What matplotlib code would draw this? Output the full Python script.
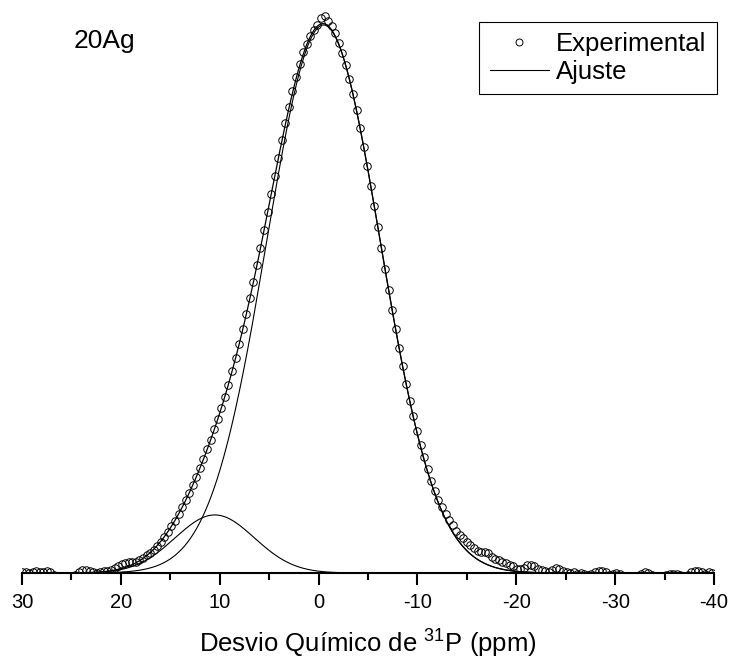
import numpy as np
import matplotlib
matplotlib.use("Agg")
import matplotlib.pyplot as plt
from matplotlib.lines import Line2D

plt.rcParams['font.family'] = ['Liberation Sans', 'DejaVu Sans']
plt.rcParams['mathtext.fontset'] = 'custom'
plt.rcParams['mathtext.rm'] = 'Liberation Sans'
plt.rcParams['mathtext.it'] = 'Liberation Sans:italic'
plt.rcParams['axes.unicode_minus'] = False

# ---- data -------------------------------------------------------------
sample_label = "20Ag"
x_start = 30.0          # ppm, first experimental point
x_step = -0.36          # ppm spacing of experimental points

exp_y = [
    0.001, 0.002, 0.000, 0.001, 0.003, 0.002, 0.002, 0.003, 0.001, -0.004,
    -0.009, -0.011, -0.012, -0.010, -0.008, -0.004, 0.002, 0.005, 0.006, 0.004,
    0.001, 0.000, 0.001, 0.003, 0.004, 0.006, 0.009, 0.012, 0.016, 0.019,
    0.020, 0.020, 0.021, 0.023, 0.028, 0.032, 0.036, 0.042, 0.049, 0.057,
    0.066, 0.075, 0.085, 0.095, 0.107, 0.120, 0.133, 0.146, 0.160, 0.176,
    0.192, 0.208, 0.226, 0.243, 0.262, 0.281, 0.301, 0.322, 0.343, 0.368,
    0.392, 0.418, 0.445, 0.472, 0.501, 0.531, 0.562, 0.593, 0.626, 0.658,
    0.692, 0.725, 0.758, 0.790, 0.821, 0.851, 0.879, 0.905, 0.929, 0.951,
    0.965, 0.980, 0.991, 1.000, 1.012, 1.016, 1.008, 0.999, 0.985, 0.968,
    0.949, 0.927, 0.902, 0.874, 0.844, 0.812, 0.778, 0.743, 0.706, 0.669,
    0.631, 0.593, 0.555, 0.517, 0.480, 0.445, 0.410, 0.377, 0.345, 0.314,
    0.286, 0.259, 0.234, 0.211, 0.189, 0.168, 0.150, 0.134, 0.120, 0.108,
    0.097, 0.087, 0.077, 0.069, 0.063, 0.057, 0.052, 0.046, 0.041, 0.039,
    0.039, 0.036, 0.030, 0.026, 0.023, 0.020, 0.018, 0.015, 0.012, 0.008,
    0.007, 0.010, 0.014, 0.015, 0.012, 0.008, 0.005, 0.003, 0.002, 0.006,
    0.009, 0.008, 0.004, 0.001, 0.000, 0.001, -0.001, 0.000, -0.002, -0.004,
    -0.001, 0.002, 0.003, 0.003, 0.001, -0.003, -0.001, 0.000, -0.002, -0.008,
    -0.010, -0.011, -0.009, -0.006, -0.002, 0.001, 0.000, -0.004, -0.009, -0.010,
    -0.008, -0.003, -0.001, -0.001, -0.002, -0.004, -0.006, -0.003, 0.001, 0.003,
    0.004, 0.002, -0.001, 0.001, 0.000,
]

# Gaussian fit components (center ppm, sigma ppm, amplitude)
fit_centers = [-0.5, 10.5]
fit_sigmas = [5.73, 4.0]
fit_amps = [1.0, 0.106]

xticks = [30, 20, 10, 0, -10, -20, -30, -40]
xtick_labels = ["30", "20", "10", "0", "-10", "-20", "-30", "-40"]

# ---- figure -----------------------------------------------------------
fig = plt.figure(figsize=(7.33, 6.61), dpi=100)
ax = fig.add_axes([0.0300, 0.1331, 0.9441, 0.8518])

exp_x = x_start + x_step * np.arange(len(exp_y))

xf = np.linspace(-40, 30, 1400)
comps = [a * np.exp(-(xf - c) ** 2 / (2 * s ** 2))
         for c, s, a in zip(fit_centers, fit_sigmas, fit_amps)]
total = np.sum(comps, axis=0)

for comp in comps:
    ax.plot(xf, comp, color='black', lw=0.8)
ax.plot(xf, total, color='black', lw=0.9)

ax.plot(exp_x, exp_y, linestyle='none', marker='o', markersize=5.4,
        markerfacecolor='none', markeredgecolor='black', markeredgewidth=0.7)

ax.set_xlim(30, -40)
ax.set_ylim(0, 1.0274)
ax.set_xticks(xticks)
ax.set_xticklabels(xtick_labels)
ax.set_xticks(np.arange(-35, 30, 10), minor=True)
ax.set_yticks([])

for s in ['left', 'right', 'top']:
    ax.spines[s].set_visible(False)
ax.spines['bottom'].set_linewidth(1.5)
ax.tick_params(axis='x', which='major', direction='out', length=8.5, width=1.5,
               labelsize=14.5, pad=6)
ax.tick_params(axis='x', which='minor', direction='out', length=5, width=1.5)

ax.set_xlabel('Desvio Químico de $^{31}$P (ppm)', fontsize=18.5, labelpad=11)

fig.text(74 / 733, 1 - 48 / 661, sample_label, fontsize=19, va='baseline')

handles = [
    Line2D([], [], linestyle='none', marker='o', markersize=5,
           markerfacecolor='none', markeredgecolor='black', markeredgewidth=0.7),
    Line2D([], [], color='black', lw=0.8),
]
leg = ax.legend(handles, ["Experimental", "Ajuste"], loc='upper right',
                bbox_to_anchor=(717 / 733, 1 - 22 / 661),
                bbox_transform=fig.transFigure, fontsize=18.5,
                frameon=True, fancybox=False, framealpha=1, borderaxespad=0,
                handlelength=2.3, handletextpad=0.3, borderpad=0.4,
                labelspacing=0.15)
leg.get_frame().set_edgecolor('black')
leg.get_frame().set_linewidth(0.8)

fig.savefig("out.png", dpi=100)
